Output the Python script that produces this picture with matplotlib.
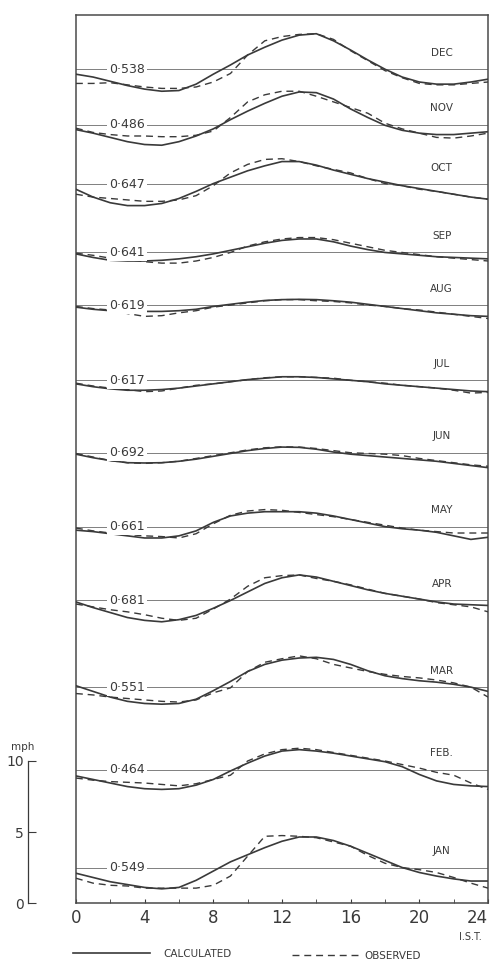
import numpy as np
import matplotlib
matplotlib.use("Agg")
import matplotlib.pyplot as plt
from matplotlib.lines import Line2D

# Diurnal variation of wind speed, calculated vs observed, one band per month
hours = np.arange(25)
months = ["JAN", "FEB.", "MAR", "APR", "MAY", "JUN", "JUL", "AUG", "SEP", "OCT", "NOV", "DEC"]
ratios = ["0·549", "0·464", "0·551", "0·681", "0·661", "0·692", "0·617", "0·619", "0·641", "0·647", "0·486", "0·538"]

# height of each month's mean line on the stacked mph scale
levels = [2.5, 9.4, 15.2, 21.3, 26.5, 31.7, 36.8, 42.1, 45.8, 50.6, 54.8, 58.7]

# departures from the daily mean (mph), hours 0..24 I.S.T.
calc = [
    [-0.4, -0.7, -1.0, -1.2, -1.4, -1.5, -1.4, -0.9, -0.25, 0.4, 0.9, 1.4, 1.85, 2.15, 2.15, 1.9, 1.5, 1.0, 0.5, 0.0, -0.35, -0.6, -0.8, -0.95, -0.95],
    [-0.45, -0.7, -0.95, -1.2, -1.35, -1.4, -1.35, -1.1, -0.7, -0.1, 0.45, 0.95, 1.3, 1.4, 1.3, 1.15, 0.95, 0.75, 0.55, 0.2, -0.35, -0.8, -1.05, -1.15, -1.2],
    [0.1, -0.3, -0.7, -1.0, -1.15, -1.2, -1.15, -0.85, -0.25, 0.4, 1.1, 1.6, 1.9, 2.05, 2.1, 1.95, 1.6, 1.15, 0.8, 0.6, 0.45, 0.35, 0.2, 0.0, -0.3],
    [-0.1, -0.5, -0.85, -1.2, -1.4, -1.5, -1.35, -1.05, -0.55, 0.0, 0.6, 1.2, 1.6, 1.8, 1.65, 1.35, 1.05, 0.75, 0.5, 0.3, 0.1, -0.1, -0.25, -0.3, -0.35],
    [-0.25, -0.35, -0.5, -0.65, -0.8, -0.8, -0.65, -0.3, 0.3, 0.75, 0.95, 1.05, 1.05, 1.05, 0.95, 0.75, 0.5, 0.25, 0.0, -0.15, -0.25, -0.4, -0.65, -0.9, -0.75],
    [-0.1, -0.35, -0.55, -0.7, -0.72, -0.7, -0.6, -0.45, -0.25, -0.05, 0.15, 0.3, 0.4, 0.38, 0.25, 0.05, -0.1, -0.2, -0.3, -0.4, -0.5, -0.6, -0.75, -0.9, -1.05],
    [-0.25, -0.45, -0.6, -0.7, -0.7, -0.65, -0.55, -0.4, -0.25, -0.1, 0.05, 0.15, 0.25, 0.25, 0.2, 0.1, 0.0, -0.1, -0.25, -0.35, -0.45, -0.55, -0.65, -0.75, -0.8],
    [-0.15, -0.3, -0.4, -0.45, -0.45, -0.45, -0.4, -0.3, -0.1, 0.05, 0.2, 0.32, 0.38, 0.4, 0.38, 0.3, 0.2, 0.05, -0.1, -0.25, -0.4, -0.55, -0.65, -0.75, -0.8],
    [-0.1, -0.35, -0.55, -0.6, -0.6, -0.55, -0.45, -0.3, -0.1, 0.15, 0.4, 0.65, 0.85, 0.95, 0.95, 0.75, 0.45, 0.2, 0.0, -0.1, -0.2, -0.3, -0.35, -0.4, -0.45],
    [-0.35, -0.9, -1.3, -1.5, -1.5, -1.35, -1.0, -0.5, 0.05, 0.5, 0.95, 1.3, 1.6, 1.6, 1.35, 1.0, 0.7, 0.4, 0.15, -0.1, -0.3, -0.5, -0.7, -0.9, -1.05],
    [-0.35, -0.6, -0.9, -1.2, -1.4, -1.45, -1.2, -0.8, -0.3, 0.35, 0.95, 1.5, 2.0, 2.3, 2.25, 1.8, 1.1, 0.5, -0.05, -0.4, -0.6, -0.7, -0.7, -0.6, -0.5],
    [-0.35, -0.55, -0.85, -1.15, -1.4, -1.55, -1.5, -1.05, -0.35, 0.3, 1.0, 1.55, 2.05, 2.4, 2.5, 2.0, 1.35, 0.65, 0.0, -0.55, -0.9, -1.05, -1.05, -0.9, -0.7],
]
obs = [
    [-0.75, -1.1, -1.25, -1.3, -1.45, -1.45, -1.45, -1.45, -1.25, -0.6, 0.8, 2.2, 2.25, 2.2, 2.1, 1.8, 1.5, 0.85, 0.3, 0.0, -0.15, -0.35, -0.7, -1.1, -1.45],
    [-0.6, -0.75, -0.85, -0.9, -0.95, -1.05, -1.15, -1.0, -0.7, -0.4, 0.6, 1.1, 1.4, 1.5, 1.4, 1.2, 1.0, 0.8, 0.6, 0.35, 0.1, -0.2, -0.4, -0.95, -1.4],
    [-0.45, -0.55, -0.7, -0.8, -0.9, -1.0, -1.05, -0.9, -0.4, -0.05, 1.1, 1.75, 2.0, 2.2, 2.0, 1.6, 1.35, 1.1, 0.9, 0.75, 0.65, 0.5, 0.3, 0.0, -0.7],
    [-0.25, -0.45, -0.65, -0.8, -1.0, -1.25, -1.4, -1.25, -0.6, 0.1, 1.0, 1.6, 1.75, 1.8, 1.55, 1.35, 1.1, 0.8, 0.5, 0.3, 0.1, -0.15, -0.3, -0.45, -0.8],
    [-0.1, -0.3, -0.45, -0.55, -0.65, -0.7, -0.8, -0.5, 0.2, 0.8, 1.1, 1.2, 1.15, 1.0, 0.85, 0.7, 0.5, 0.3, 0.1, -0.1, -0.25, -0.35, -0.45, -0.45, -0.45],
    [-0.05, -0.3, -0.55, -0.7, -0.75, -0.7, -0.6, -0.4, -0.2, 0.0, 0.2, 0.35, 0.42, 0.4, 0.3, 0.15, 0.0, -0.05, -0.1, -0.2, -0.4, -0.55, -0.7, -0.85, -0.95],
    [-0.2, -0.4, -0.55, -0.65, -0.8, -0.75, -0.55, -0.35, -0.25, -0.1, 0.05, 0.18, 0.25, 0.25, 0.2, 0.15, 0.0, -0.1, -0.2, -0.35, -0.45, -0.55, -0.7, -0.9, -0.85],
    [-0.1, -0.25, -0.35, -0.6, -0.8, -0.75, -0.55, -0.4, -0.15, 0.0, 0.15, 0.3, 0.38, 0.38, 0.3, 0.25, 0.15, 0.0, -0.1, -0.25, -0.35, -0.5, -0.65, -0.8, -0.95],
    [-0.05, -0.2, -0.4, -0.5, -0.65, -0.75, -0.75, -0.6, -0.35, 0.0, 0.45, 0.75, 0.95, 1.05, 1.05, 0.9, 0.65, 0.4, 0.15, 0.0, -0.15, -0.3, -0.4, -0.5, -0.6],
    [-0.7, -0.9, -1.0, -1.1, -1.2, -1.2, -1.1, -0.8, -0.1, 0.8, 1.4, 1.75, 1.8, 1.6, 1.3, 1.05, 0.8, 0.4, 0.05, -0.1, -0.35, -0.5, -0.7, -0.9, -1.05],
    [-0.25, -0.55, -0.7, -0.8, -0.8, -0.85, -0.85, -0.75, -0.45, 0.5, 1.6, 2.1, 2.35, 2.35, 2.0, 1.6, 1.2, 0.8, 0.1, -0.3, -0.6, -0.9, -0.95, -0.8, -0.6],
    [-1.0, -1.0, -0.95, -1.1, -1.25, -1.35, -1.35, -1.25, -0.9, -0.3, 1.0, 2.0, 2.3, 2.45, 2.5, 2.1, 1.3, 0.6, -0.1, -0.6, -1.0, -1.1, -1.1, -1.0, -0.9],
]

ink = "#3a3a3a"
fig = plt.figure(figsize=(4.96, 9.65), dpi=100)
ax = fig.add_axes([0.153, 0.0642, 0.831, 0.920])

for i in range(12):
    base = levels[i]
    ax.axhline(base, color="#6a6a6a", lw=0.6, zorder=1)
    ax.plot(hours, np.array(calc[i]) + base, color=ink, lw=1.2, zorder=3)
    ax.plot(hours, np.array(obs[i]) + base, color=ink, lw=1.0, ls=(0, (5, 3.5)), zorder=3)
    ax.text(3.0, base, ratios[i], ha="center", va="center", fontsize=9, color=ink,
            bbox=dict(facecolor="white", edgecolor="none", pad=1.5), zorder=4)
    ax.text(21.3, base + 1.15, months[i], ha="center", va="center", fontsize=7.5, color=ink)

ax.set_xlim(0, 24)
ax.set_ylim(0, 62.5)
ax.set_xticks(range(0, 25, 4))
ax.set_xticks(range(0, 25, 2), minor=True)
ax.set_yticks([])
ax.tick_params(axis="x", which="both", direction="in", length=3, labelsize=12,
               colors=ink, pad=4)
# the last hour label sits inside the frame, as in the original
ax.get_xticklabels()[-1].set_horizontalalignment("right")
for s in ax.spines.values():
    s.set_color("#4a4a4a")
    s.set_linewidth(1.1)

# mph scale bar on the left, same vertical scale as the chart
sc = fig.add_axes([0.056, 0.0642, 0.05, 0.920])
sc.set_ylim(0, 62.5)
sc.set_xlim(0, 1)
sc.set_xticks([])
sc.set_yticks([0, 5, 10])
sc.tick_params(axis="y", direction="in", length=6, labelsize=10, colors=ink, pad=3)
for k in ["top", "right", "bottom"]:
    sc.spines[k].set_visible(False)
sc.spines["left"].set_bounds(0, 10)
sc.spines["left"].set_color(ink)
sc.spines["left"].set_linewidth(0.9)
sc.patch.set_alpha(0)
fig.text(0.045, 1 - 747 / 965, "mph", fontsize=7.5, color=ink, ha="center", va="center")

fig.text(470 / 496, 1 - 937 / 965, "I.S.T.", fontsize=7, color=ink, ha="center", va="center")

# legend along the bottom
fig.add_artist(Line2D([73 / 496, 150 / 496], [1 - 953 / 965] * 2, color=ink, lw=1.2))
fig.text(163 / 496, 1 - 954 / 965, "CALCULATED", fontsize=7.5, color=ink, va="center")
fig.add_artist(Line2D([292 / 496, 360 / 496], [1 - 955 / 965] * 2, color=ink, lw=1.0,
                      ls=(0, (5, 3.5))))
fig.text(364 / 496, 1 - 956 / 965, "OBSERVED", fontsize=7.5, color=ink, va="center")

fig.savefig("out.png", dpi=100, facecolor="white")
